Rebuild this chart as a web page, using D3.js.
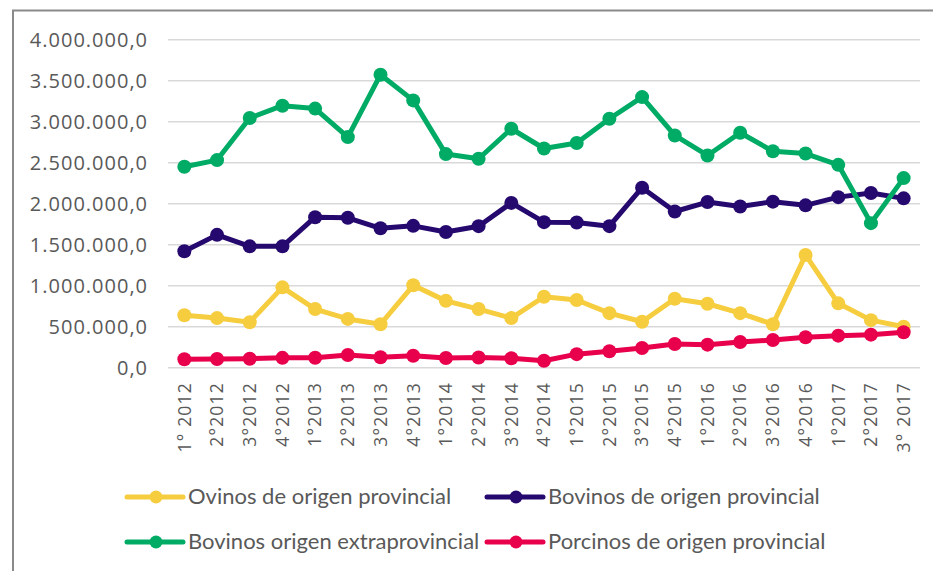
<!DOCTYPE html>
<html>
<head>
<meta charset="utf-8">
<script src="https://cdn.jsdelivr.net/npm/d3@7"></script>
<style>
	body { margin: 0; background: #fff; }
	.grid line { stroke: #d9d9d9; stroke-width: 1.5; }
	.y-label, .x-label { fill: #595959; font-family: "Open Sans", sans-serif; }
	.legend text { fill: #595959; font-family: Lato, sans-serif; font-size: 22px; }
</style>
</head>
<body>
<div class="chart"></div>
<script>

const periods = ["1° 2012", "2°2012", "3°2012", "4°2012", "1°2013", "2°2013", "3°2013", "4°2013",
	"1°2014", "2°2014", "3°2014", "4°2014", "1°2015", "2°2015", "3°2015", "4°2015",
	"1°2016", "2°2016", "3°2016", "4°2016", "1°2017", "2°2017", "3° 2017"];

const ovinosProv = [640000, 605000, 555000, 980000, 715000, 595000, 530000, 1005000,
	815000, 715000, 605000, 865000, 825000, 665000, 560000, 840000,
	780000, 665000, 530000, 1375000, 785000, 580000, 500000];

const bovinosProv = [1420000, 1620000, 1480000, 1480000, 1835000, 1828000, 1700000, 1730000,
	1655000, 1726000, 2010000, 1775000, 1770000, 1726000, 2195000, 1905000,
	2020000, 1965000, 2025000, 1980000, 2080000, 2130000, 2065000];

const bovinosExtra = [2450000, 2532000, 3045000, 3195000, 3160000, 2812000, 3573000, 3260000,
	2605000, 2548000, 2914000, 2673000, 2740000, 3036000, 3300000, 2832000,
	2588000, 2865000, 2640000, 2612000, 2474000, 1763000, 2312000];

const porcinosProv = [103000, 106000, 110000, 120000, 122000, 155000, 128000, 146000,
	118000, 125000, 115000, 85000, 165000, 200000, 240000, 289000,
	281000, 314000, 338000, 371000, 391000, 403000, 432000];

const seriesNames = ["Ovinos de origen provincial", "Bovinos de origen provincial",
	"Bovinos origen extraprovincial", "Porcinos de origen provincial"];
const seriesColors = ["#f6cd3f", "#26096e", "#00ab66", "#e8004c"];
const yTicks = [0, 500000, 1000000, 1500000, 2000000, 2500000, 3000000, 3500000, 4000000];

const series = [ovinosProv, bovinosProv, bovinosExtra, porcinosProv].map((values, i) => ({
	name: seriesNames[i],
	color: seriesColors[i],
	values: values
}));

const width = 933;
const height = 571;

const locale = d3.formatLocale({ decimal: ",", thousands: ".", grouping: [3], currency: ["$", ""] });
const fmt = locale.format(",.1f");

const scaleX = d3.scalePoint().domain(periods).range([168, 920]).padding(0.5);
const scaleY = d3.scaleLinear().domain([0, 4000000]).range([367.7, 39.7]);

const svg = d3.select(".chart")
	.append("svg")
		.attr("width", width)
		.attr("height", height);

// outer frame
svg.append("rect")
	.attr("x", 13)
	.attr("y", 10.5)
	.attr("width", 940)
	.attr("height", 600)
	.attr("fill", "none")
	.attr("stroke", "#8a8a8a")
	.attr("stroke-width", 2);

// gridlines + y labels
const grid = svg.append("g").attr("class", "grid");
grid.selectAll("line")
	.data(yTicks).enter()
	.append("line")
		.attr("x1", 168)
		.attr("x2", 920)
		.attr("y1", (d) => scaleY(d))
		.attr("y2", (d) => scaleY(d));

svg.append("g")
	.selectAll(".y-label")
		.data(yTicks).enter()
	.append("text")
		.attr("class", "y-label")
		.attr("x", 148)
		.attr("y", (d) => scaleY(d))
		.attr("dy", "0.36em")
		.attr("text-anchor", "end")
		.style("font-size", "20px")
		.style("letter-spacing", "1px")
		.text((d) => fmt(d));

// x labels, rotated
svg.append("g")
	.selectAll(".x-label")
		.data(periods).enter()
	.append("text")
		.attr("class", "x-label")
		.attr("transform", (d) => `translate(${scaleX(d)}, 382) rotate(-90)`)
		.attr("dy", "0.36em")
		.attr("text-anchor", "end")
		.style("font-size", "17.5px")
		.style("letter-spacing", "1.2px")
		.text((d) => d);

// lines
const line = d3.line()
	.x((d, i) => scaleX(periods[i]))
	.y((d) => scaleY(d));

const lines = svg.append("g")
	.selectAll(".series")
		.data(series).enter()
	.append("g")
		.attr("class", "series");

lines.append("path")
	.attr("d", (s) => line(s.values))
	.attr("fill", "none")
	.attr("stroke", (s) => s.color)
	.attr("stroke-width", 5)
	.attr("stroke-linejoin", "round");

lines.selectAll("circle")
	.data((s) => s.values.map((v, i) => ({ v: v, i: i, color: s.color }))).enter()
	.append("circle")
		.attr("cx", (d) => scaleX(periods[d.i]))
		.attr("cy", (d) => scaleY(d.v))
		.attr("r", 7)
		.attr("fill", (d) => d.color);

// legend
const legendPos = [[127, 497], [487, 497], [127, 542], [487, 542]];
const legend = svg.append("g")
	.attr("class", "legend")
	.selectAll(".item")
		.data(series).enter()
	.append("g")
		.attr("class", "item")
		.attr("transform", (d, i) => `translate(${legendPos[i][0]}, ${legendPos[i][1]})`);

legend.append("line")
	.attr("x1", 0)
	.attr("x2", 56)
	.attr("stroke", (d) => d.color)
	.attr("stroke-width", 5)
	.attr("stroke-linecap", "round");

legend.append("circle")
	.attr("cx", 29)
	.attr("r", 6.5)
	.attr("fill", (d) => d.color);

legend.append("text")
	.attr("x", 61)
	.attr("dy", "0.34em")
	.text((d) => d.name);

</script>
</body>
</html>
